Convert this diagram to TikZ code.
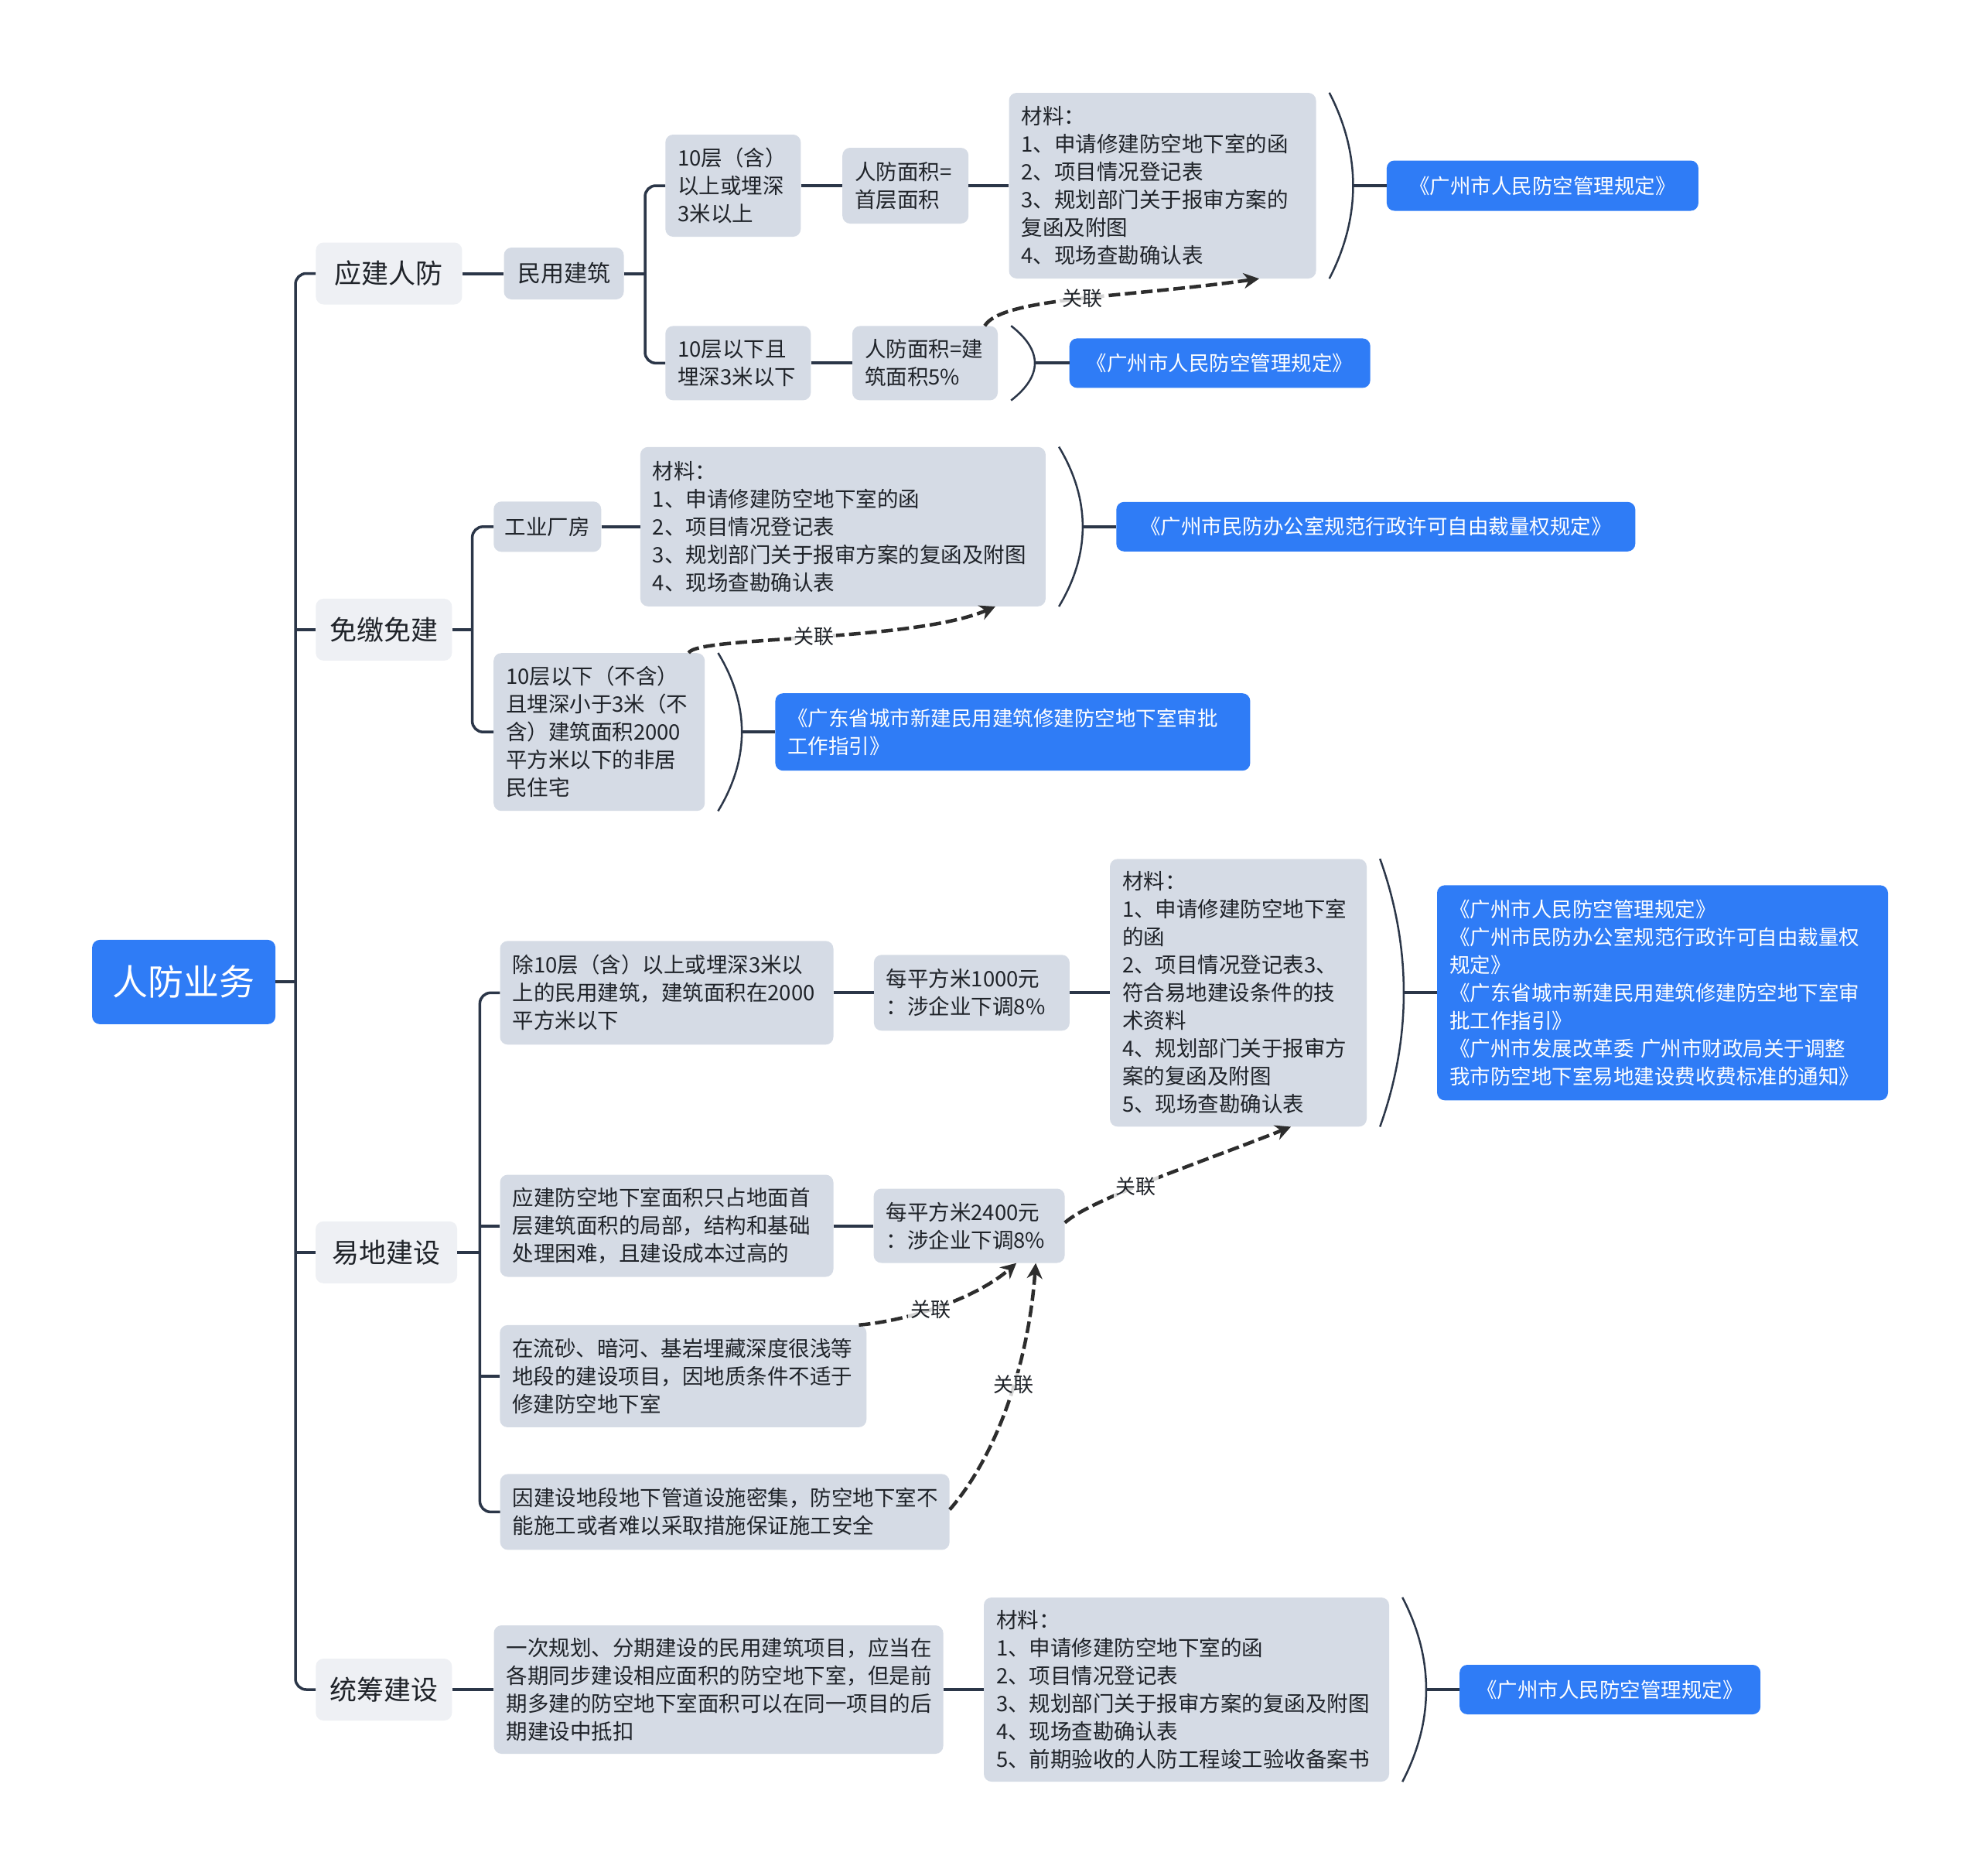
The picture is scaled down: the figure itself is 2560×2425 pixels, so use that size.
\documentclass[tikz,border=0pt]{standalone}
\usepackage{fontspec}
\setmainfont{Noto Sans CJK SC}
\usetikzlibrary{calc,arrows.meta}
\definecolor{bluec}{RGB}{47,124,246}
\definecolor{greyc}{RGB}{213,219,229}
\definecolor{lightc}{RGB}{238,240,244}
\definecolor{linec}{RGB}{43,54,72}
\definecolor{txtc}{RGB}{31,35,41}
\definecolor{relc}{RGB}{45,45,45}
\newcommand\mybrk[2]{%
  \draw[brk] ($(#1.north east)+(17,0)$) .. controls ($(#1.north east)!0.33!(#1.south east)+(58,0)$) and ($(#1.north east)!0.67!(#1.south east)+(58,0)$) .. ($(#1.south east)+(17,0)$);
  \draw[conn] ($(#1.east)+(47,0)$) -- (#2.west);
}
\begin{document}
\begin{tikzpicture}[x=1pt,y=-1pt,
  rootbox/.style={fill=bluec, rounded corners=10pt, text=white, inner sep=0pt, font=\fontsize{46}{52}\selectfont},
  lonebox/.style={fill=lightc, rounded corners=10pt, text=txtc, inner sep=0pt, font=\fontsize{35}{42}\selectfont},
  gbox/.style={fill=greyc, rounded corners=10pt, text=txtc, align=left, inner xsep=16pt, inner ysep=0pt, font=\fontsize{27.5}{36}\selectfont},
  bbox/.style={fill=bluec, rounded corners=10pt, text=white, align=left, inner xsep=16pt, inner ysep=0pt, font=\fontsize{26.5}{36}\selectfont},
  conn/.style={draw=linec, line width=4pt},
  brk/.style={draw=linec, line width=2.5pt},
  rel/.style={draw=relc, line width=4.5pt, dash pattern=on 15pt off 6pt, -{Stealth[length=20pt,width=20pt]}},
  lbl/.style={fill=white, fill opacity=0.8, text opacity=1, inner sep=3pt, text=txtc, font=\fontsize{26}{30}\selectfont}]
\fill[white] (0,0) rectangle (2560,2425);
\useasboundingbox (0,0) rectangle (2560,2425);

% root and level 1
\node[rootbox, minimum width=237pt, minimum height=109pt] (root) at (237.6,1269.4) {人防业务};
\node[lonebox, minimum width=189pt, minimum height=80pt] (L1a) at (502.9,353.5) {应建人防};
\node[lonebox, minimum width=176pt, minimum height=80pt] (L1b) at (496.3,813.9) {免缴免建};
\node[lonebox, minimum width=183pt, minimum height=80pt] (L1c) at (499.6,1618.8) {易地建设};
\node[lonebox, minimum width=176pt, minimum height=80pt] (L1d) at (496.3,2184) {统筹建设};

% 应建人防
\node[gbox, align=center, inner xsep=0pt, minimum width=155pt, minimum height=67pt, font=\fontsize{30}{36}\selectfont] (M1) at (729,353.5) {民用建筑};
\node[gbox, text width=143pt, minimum height=132pt] (A1) at (947.8,240) {10层（含）\\以上或埋深\\3米以上};
\node[gbox, text width=131pt, minimum height=98pt] (B1) at (1170.7,240) {人防面积=\\首层面积};
\node[gbox, text width=365pt, minimum height=240pt] (Mat1) at (1503,240) {材料：\\1、申请修建防空地下室的函\\2、项目情况登记表\\3、规划部门关于报审方案的\\复函及附图\\4、现场查勘确认表};
\node[bbox, align=center, inner xsep=0pt, minimum width=403pt, minimum height=65pt] (Blue1) at (1994.4,240) {《广州市人民防空管理规定》};
\node[gbox, text width=156pt, minimum height=96pt] (A2) at (954.3,469.4) {10层以下且\\埋深3米以下};
\node[gbox, text width=156pt, minimum height=96pt] (B2) at (1196,469.4) {人防面积=建\\筑面积5\%};
\node[bbox, align=center, inner xsep=0pt, minimum width=389pt, minimum height=64pt] (Blue2) at (1577.2,469.4) {《广州市人民防空管理规定》};

% 免缴免建
\node[gbox, align=center, inner xsep=0pt, minimum width=139pt, minimum height=65pt] (C1) at (707.8,680.8) {工业厂房};
\node[gbox, text width=492pt, minimum height=206pt] (Mat2) at (1089.9,680.8) {材料：\\1、申请修建防空地下室的函\\2、项目情况登记表\\3、规划部门关于报审方案的复函及附图\\4、现场查勘确认表};
\node[bbox, align=center, inner xsep=0pt, minimum width=671pt, minimum height=64pt] (Blue3) at (1778.8,680.8) {《广州市民防办公室规范行政许可自由裁量权规定》};
\node[gbox, text width=241pt, minimum height=204pt] (C2) at (774.7,946.2) {10层以下（不含）\\且埋深小于3米（不\\含）建筑面积2000\\平方米以下的非居\\民住宅};
\node[bbox, text width=582pt, minimum height=100pt] (Blue4) at (1309.4,946.2) {《广东省城市新建民用建筑修建防空地下室审批\\工作指引》};

% 易地建设
\node[gbox, text width=399pt, minimum height=134pt] (D1) at (862,1283.3) {除10层（含）以上或埋深3米以\\上的民用建筑，建筑面积在2000\\平方米以下};
\node[gbox, text width=221pt, minimum height=98pt] (E1) at (1256.4,1283.3) {每平方米1000元\\：涉企业下调8\%};
\node[gbox, text width=300pt, minimum height=346pt] (Mat3) at (1601,1283.3) {材料：\\1、申请修建防空地下室\\的函\\2、项目情况登记表3、\\符合易地建设条件的技\\术资料\\4、规划部门关于报审方\\案的复函及附图\\5、现场查勘确认表};
\node[bbox, text width=551pt, minimum height=278pt] (Blue5) at (2149.5,1283.3) {《广州市人民防空管理规定》\\《广州市民防办公室规范行政许可自由裁量权\\规定》\\《广东省城市新建民用建筑修建防空地下室审\\批工作指引》\\《广州市发展改革委 广州市财政局关于调整\\我市防空地下室易地建设费收费标准的通知》};
\node[gbox, text width=399pt, minimum height=132pt] (D2) at (862,1584.5) {应建防空地下室面积只占地面首\\层建筑面积的局部，结构和基础\\处理困难，且建设成本过高的};
\node[gbox, text width=215pt, minimum height=96pt] (E2) at (1253.1,1584.5) {每平方米2400元\\：涉企业下调8\%};
\node[gbox, text width=442pt, minimum height=132pt] (D3) at (883.3,1778.9) {在流砂、暗河、基岩埋藏深度很浅等\\地段的建设项目，因地质条件不适于\\修建防空地下室};
\node[gbox, text width=549pt, minimum height=98pt] (D4) at (937.2,1954.4) {因建设地段地下管道设施密集，防空地下室不\\能施工或者难以采取措施保证施工安全};

% 统筹建设
\node[gbox, text width=549pt, minimum height=166pt] (F1) at (929,2184) {一次规划、分期建设的民用建筑项目，应当在\\各期同步建设相应面积的防空地下室，但是前\\期多建的防空地下室面积可以在同一项目的后\\期建设中抵扣};
\node[gbox, text width=492pt, minimum height=238pt] (Mat4) at (1534,2184) {材料：\\1、申请修建防空地下室的函\\2、项目情况登记表\\3、规划部门关于报审方案的复函及附图\\4、现场查勘确认表\\5、前期验收的人防工程竣工验收备案书};
\node[bbox, align=center, inner xsep=0pt, minimum width=389pt, minimum height=64pt] (Blue6) at (2081.7,2184) {《广州市人民防空管理规定》};

% branch points
\coordinate (tk) at (382,1269.4);
\coordinate (bA) at (834,353.5);
\coordinate (bB) at (610.6,813.9);
\coordinate (bC) at (620.4,1618.8);

% trunk
\draw[conn, line width=3.5pt, rounded corners=14pt] (L1a.west) -| (tk) |- (L1d.west);
\draw[conn] (root.east) -- (tk);
\draw[conn] (L1b.west) -- (L1b.west -| tk);
\draw[conn] (L1c.west) -- (L1c.west -| tk);

% 应建人防 connectors
\draw[conn] (L1a) -- (M1);
\draw[conn] (M1.east) -- (bA);
\draw[conn, line width=3.5pt, rounded corners=14pt] (A1.west) -| (bA) |- (A2.west);
\draw[conn] (A1) -- (B1);
\draw[conn] (B1) -- (Mat1);
\mybrk{Mat1}{Blue1}
\draw[conn] (A2) -- (B2);
\mybrk{B2}{Blue2}

% 免缴免建 connectors
\draw[conn] (L1b.east) -- (bB);
\draw[conn, line width=3.5pt, rounded corners=14pt] (C1.west) -| (bB) |- (C2.west);
\draw[conn] (C1) -- (Mat2);
\mybrk{Mat2}{Blue3}
\mybrk{C2}{Blue4}

% 易地建设 connectors
\draw[conn] (L1c.east) -- (bC);
\draw[conn, line width=3.5pt, rounded corners=14pt] (D1.west) -| (bC) |- (D4.west);
\draw[conn] (D2.west) -- (D2.west -| bC);
\draw[conn] (D3.west) -- (D3.west -| bC);
\draw[conn] (D1) -- (E1);
\draw[conn] (E1) -- (Mat3);
\mybrk{Mat3}{Blue5}
\draw[conn] (D2) -- (E2);

% 统筹建设 connectors
\draw[conn] (L1d) -- (F1);
\draw[conn] (F1) -- (Mat4);
\mybrk{Mat4}{Blue6}

% relation arrows
\draw[rel] ($(B2.north east)+(-17,0)$) .. controls (1295,385) and (1450,385) .. node[lbl, pos=0.52] {关联} ($(Mat1.south)+(125,0)$);
\draw[rel] ($(C2.north east)+(-21,0)$) .. controls (900,822) and (1180,830) .. node[lbl, pos=0.5] {关联} ($(Mat2.south)+(197,0)$);
\draw[rel] ($(E2.east)+(0,-4)$) .. controls (1410,1550) and (1560,1500) .. node[lbl, pos=0.42] {关联} ($(Mat3.south)+(68,0)$);
\draw[rel] ($(D3.north east)+(-10,0)$) .. controls (1170,1708) and (1260,1680) .. node[lbl, pos=0.45] {关联} ($(E2.south)+(61,0)$);
\draw[rel] ($(D4.east)+(0,-3)$) .. controls (1290,1880) and (1330,1760) .. node[lbl, pos=0.57] {关联} ($(E2.south)+(86,0)$);
\end{tikzpicture}
\end{document}
